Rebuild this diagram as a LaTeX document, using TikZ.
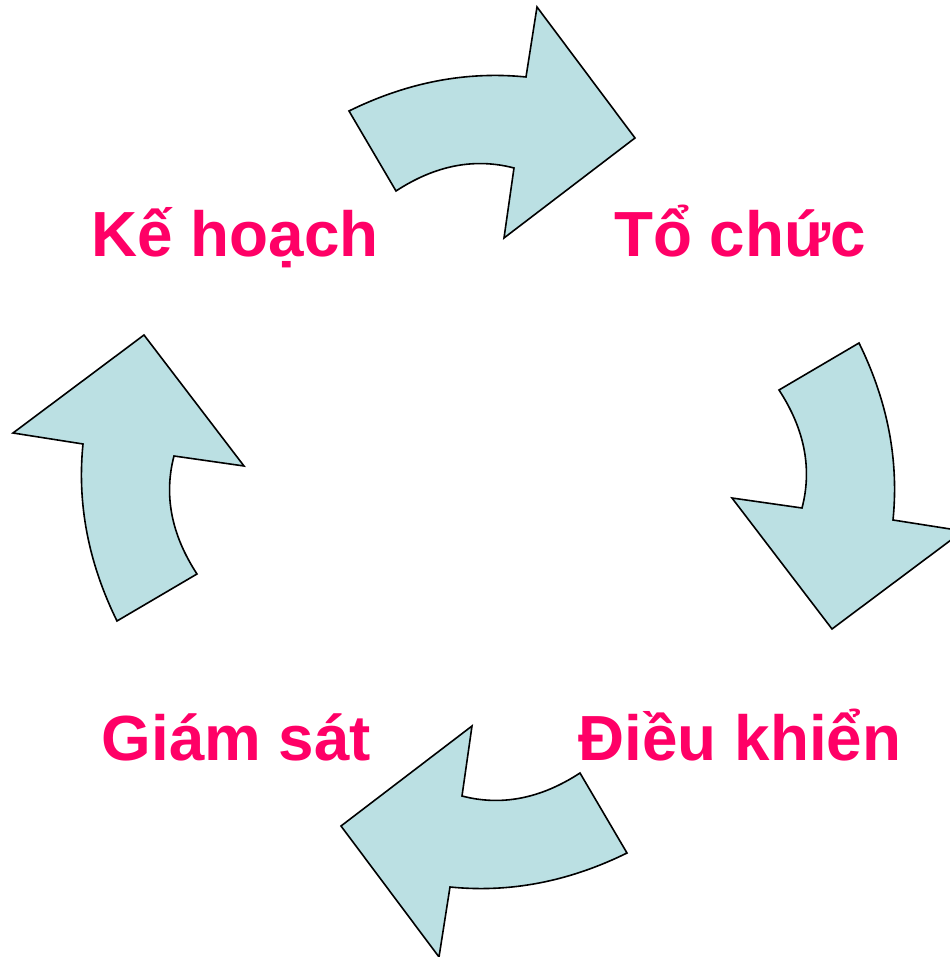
\documentclass[tikz,border=0pt]{standalone}
\usepackage{fontspec}
\setmainfont{Liberation Sans}
\definecolor{arrowfill}{HTML}{BBE0E3}
\definecolor{labelpink}{HTML}{FF0066}
\tikzset{cyclearrow/.style = {draw=black, fill=arrowfill, line width=1.6pt, line join=miter}}
\tikzset{steplabel/.style = {anchor=base, inner sep=0pt, text=labelpink,
                             font=\fontsize{63.8}{76}\selectfont\bfseries}}

\begin{document}
\begin{tikzpicture}[x=1pt,y=1pt]
            \useasboundingbox (-488,-475) rectangle (461,482);
            % the four curved arrows, turned a quarter each time
            \foreach \ang in {0,-90,-180,-270}
              \draw[cyclearrow, rotate=\ang] (-139,371) .. controls (-80.7,399.7) and (-21.7,411) .. (38,405)
                -- (49,475) -- (147,344) -- (16,244) -- (26,314)
                .. controls (-13.3,324.3) and (-52.7,316.7) .. (-92,291) -- cycle;
            \node[steplabel] (kehoach) at (-253,225) {Kế hoạch};
            \node[steplabel] (tochuc) at (252,225) {Tổ chức};
            \node[steplabel] (dieukhien) at (252,-278) {Điều khiển};
            \node[steplabel] (giamsat) at (-251.5,-278) {Giám sát};
        \end{tikzpicture}
\end{document}
